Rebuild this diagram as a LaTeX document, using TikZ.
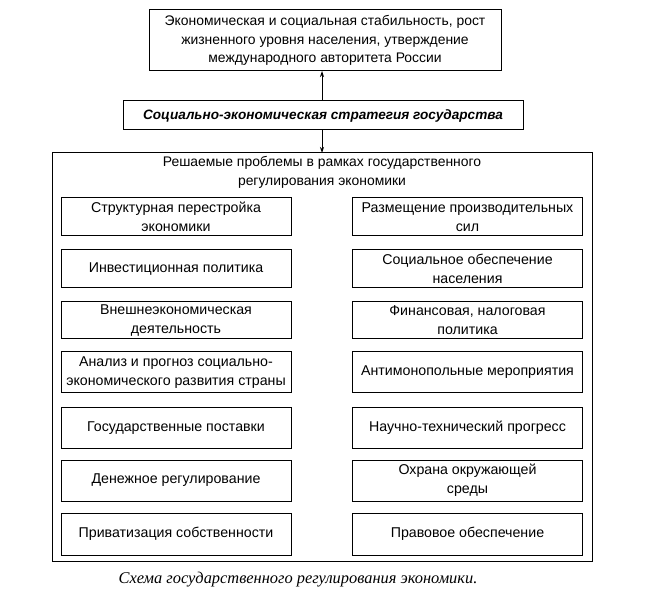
\documentclass[tikz,border=0pt]{standalone}
\usepackage{fontspec}
\setmainfont{Liberation Sans}
\newfontfamily\capfont{Liberation Serif}
\usetikzlibrary{arrows.meta}
\begin{document}
\begin{tikzpicture}[x=1pt,y=-1pt,
  every node/.style={inner sep=0pt, outer sep=0pt},
  frame/.style={draw, line width=1pt, rectangle, align=center, font=\fontsize{13.9}{18.5}\selectfont},
  item/.style={frame, minimum width=230pt, font=\fontsize{14.2}{19}\selectfont},
  arr/.style={line width=0.9pt, -{Stealth[length=6pt,width=4pt]}}
]
\useasboundingbox (0,0) rectangle (648,601);
\node[frame, minimum width=352pt, minimum height=61pt] (goal) at (325,40.5)
  {Экономическая и социальная стабильность, рост\\жизненного уровня населения, утверждение\\международного авторитета России};
\node[frame, minimum width=400pt, minimum height=29pt, font=\fontsize{13.6}{15}\selectfont\bfseries\itshape] (strat) at (323,115.5)
  {Социально-экономическая стратегия государства};
\node[frame, minimum width=540pt, minimum height=408pt] (big) at (322,357) {};
\node[align=center, font=\fontsize{13.9}{19}\selectfont] (title) at (322,172.5)
  {Решаемые проблемы в рамках государственного\\регулирования экономики};
% left column
\node[item, minimum height=38pt] (l1) at (176,217) {Структурная перестройка\\экономики};
\node[item, minimum height=38pt] (l2) at (176,269) {Инвестиционная политика};
\node[item, minimum height=37pt] (l3) at (176,320.5) {Внешнеэкономическая\\деятельность};
\node[item, minimum height=41pt] (l4) at (176,372.5) {Анализ и прогноз социально-\\экономического развития страны};
\node[item, minimum height=40pt] (l5) at (176,428) {Государственные поставки};
\node[item, minimum height=41pt] (l6) at (176,480.5) {Денежное регулирование};
\node[item, minimum height=42pt] (l7) at (176,534) {Приватизация собственности};
% right column
\node[item, minimum height=38pt] (r1) at (467.5,217) {Размещение производительных\\сил};
\node[item, minimum height=38pt] (r2) at (467.5,269) {Социальное обеспечение\\населения};
\node[item, minimum height=37pt] (r3) at (467.5,320.5) {Финансовая, налоговая\\политика};
\node[item, minimum height=41pt] (r4) at (467.5,372.5) {Антимонопольные мероприятия};
\node[item, minimum height=40pt] (r5) at (467.5,428) {Научно-технический прогресс};
\node[item, minimum height=41pt] (r6) at (467.5,480.5) {Охрана окружающей\\среды};
\node[item, minimum height=42pt] (r7) at (467.5,534) {Правовое обеспечение};
% connectors
\draw[arr] (strat.north -| 322,0) -- (goal.south -| 322,0);
\draw[arr] (strat.south -| 322,0) -- (big.north -| 322,0);
% caption
\node[font=\capfont\itshape\fontsize{16.4}{19}\selectfont] (cap) at (298,580)
  {Схема государственного регулирования экономики.};
\end{tikzpicture}
\end{document}
